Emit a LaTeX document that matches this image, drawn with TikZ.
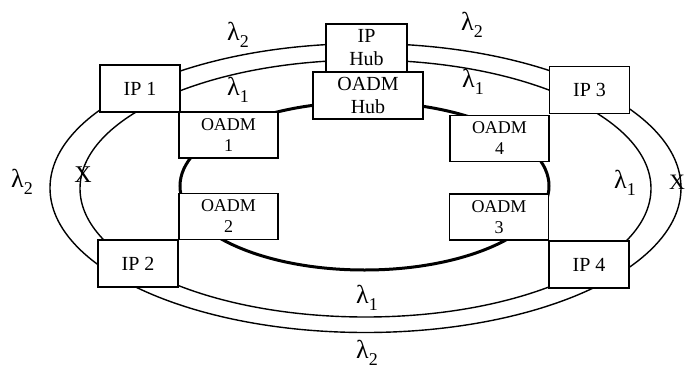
\documentclass[tikz,border=0pt]{standalone}
\usepackage{fontspec}
\setmainfont{Liberation Serif}
\newcommand{\lam}[1]{{\fontsize{26}{26}\selectfont λ}\raisebox{-7pt}{\fontsize{18}{18}\selectfont #1}}
\tikzset{
 ipbox/.style={draw,fill=white,line width=1.8pt,minimum width=80pt,minimum height=47pt,inner sep=0pt,align=center,font=\fontsize{20}{23}\selectfont},
 oadmbox/.style={ipbox,minimum width=99pt,minimum height=46pt,font=\fontsize{18}{21}\selectfont},
 wavelen/.style={inner sep=0pt},
}
\begin{document}
\begin{tikzpicture}[x=1pt,y=-1pt]
 \useasboundingbox (0,0) rectangle (686,370);
 % rings
 \draw[line width=1.4pt] (365.5,188) ellipse [x radius=315.5pt, y radius=144.5pt];
 \draw[line width=1.4pt] (365.5,188.5) ellipse [x radius=285.5pt, y radius=128.5pt];
 \draw[line width=3pt] (364.5,186) ellipse [x radius=184.5pt, y radius=84pt];
 % nodes
 \node[ipbox] (ip1) at (140,88.5) {IP 1};
 \node[ipbox] (ip2) at (138,263.5) {IP 2};
 \node[ipbox] (ip3) at (589.5,90) {IP 3};
 \node[ipbox] (ip4) at (589,264.5) {IP 4};
 \node[oadmbox] (oadm1) at (228.5,135) {OADM\\1};
 \node[oadmbox] (oadm2) at (228.5,216.5) {OADM\\2};
 \node[oadmbox] (oadm3) at (499,217) {OADM\\3};
 \node[oadmbox] (oadm4) at (499.5,138.5) {OADM\\4};
 \node[oadmbox,minimum width=110pt,minimum height=47pt,font=\fontsize{20}{23}\selectfont] (oadmhub) at (368,95.5) {OADM\\Hub};
 \node[ipbox,minimum width=81pt,minimum height=48pt] (iphub) at (366.5,48) {IP\\Hub};
 % wavelengths
 \node[wavelen] (l2tl) at (238,35) {\lam{2}};
 \node[wavelen] (l1tl) at (238,90) {\lam{1}};
 \node[wavelen] (l2tr) at (472,25) {\lam{2}};
 \node[wavelen] (l1tr) at (473,82) {\lam{1}};
 \node[wavelen] (l2l) at (22,182) {\lam{2}};
 \node[wavelen] (l1r) at (625,183) {\lam{1}};
 \node[wavelen] (l1b) at (367,298) {\lam{1}};
 \node[wavelen] (l2b) at (367,353) {\lam{2}};
 \node[wavelen,font=\fontsize{24}{24}\selectfont] (xl) at (83,175) {X};
 \node[wavelen,font=\fontsize{22}{22}\selectfont] (xr) at (677,182) {X};
\end{tikzpicture}
\end{document}
